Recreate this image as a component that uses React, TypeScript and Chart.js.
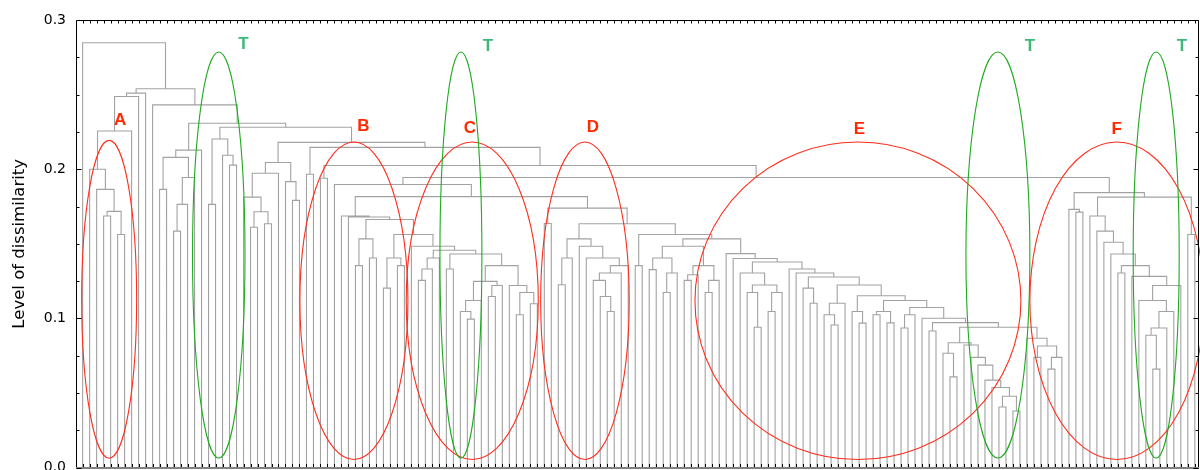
import React, { useEffect, useRef } from 'react';
import { Chart, registerables } from 'chart.js';

Chart.register(...registerables);

// Height (level of dissimilarity) at which each pair of neighbouring leaves is joined.
// Entry i is the join between leaf i and leaf i+1 (160 leaves, left to right).
const GAP_HEIGHTS = [
  0.2848, 0.2000, 0.1865, 0.1686, 0.1717, 0.1562, 0.2256, 0.2487, 0.2510, 0.2539,
  0.2431, 0.1865, 0.2079, 0.1585, 0.1764, 0.1944, 0.2128, 0.2308, 0.1764, 0.2202,
  0.2094, 0.2027, 0.2281, 0.1813, 0.1611, 0.1715, 0.1634, 0.1973, 0.2045, 0.1917,
  0.1791, 0.2180, 0.1966, 0.2146, 0.1939, 0.2025, 0.1897, 0.1686, 0.1680, 0.1354,
  0.1533, 0.1405, 0.1663, 0.1203, 0.1405, 0.1354, 0.1562, 0.1484, 0.1255, 0.1331,
  0.1405, 0.1457, 0.1331, 0.1432, 0.1046, 0.0995, 0.1120, 0.1248, 0.1147, 0.1221,
  0.1354, 0.1221, 0.1024, 0.1174, 0.1098, 0.1816, 0.1636, 0.1739, 0.1226, 0.1405,
  0.1533, 0.1484, 0.1405, 0.1255, 0.1147, 0.1046, 0.1304, 0.1354, 0.1634, 0.1354,
  0.1562, 0.1327, 0.1405, 0.1174, 0.1304, 0.1484, 0.1255, 0.1293, 0.1354, 0.1174,
  0.1255, 0.1533, 0.1434, 0.1401, 0.1304, 0.1174, 0.0941, 0.1224, 0.1046, 0.1174,
  0.1378, 0.1331, 0.1304, 0.1203, 0.1102, 0.1277, 0.1024, 0.0956, 0.1102, 0.1224,
  0.1046, 0.0968, 0.1152, 0.1024, 0.1046, 0.0970, 0.1120, 0.0936, 0.1024, 0.1073,
  0.1001, 0.0916, 0.0972, 0.0766, 0.0608, 0.0837, 0.0822, 0.0739, 0.0687, 0.0586,
  0.0537, 0.0406, 0.0478, 0.0379, 0.0941, 0.0867, 0.0739, 0.0815, 0.0660, 0.0739,
  0.1944, 0.1731, 0.1712, 0.1843, 0.1686, 0.1585, 0.1510, 0.1432, 0.1304, 0.1354,
  0.1282, 0.1120, 0.0887, 0.0660, 0.0936, 0.1046, 0.1221, 0.1813, 0.1562,
];

const Y_MIN = 0;
const Y_MAX = 0.3;
const Y_STEP = 0.1;
const Y_MINOR_STEP = 0.025;
const Y_TITLE = 'Level of dissimilarity';

// Group outlines (centre / radii in leaf-index and dissimilarity units)
const GROUP_LABELS = ['A', 'T', 'B', 'C', 'T', 'D', 'E', 'T', 'F', 'T'];
const GROUP_KINDS = ['red', 'green', 'red', 'red', 'green', 'red', 'red', 'green', 'red', 'green'];
const GROUP_CX = [3.79, 19.46, 38.78, 55.7, 54.08, 71.81, 110.84, 130.85, 147.86, 153.48];
const GROUP_RX = [3.93, 3.75, 7.72, 9.44, 3.0, 6.33, 23.3, 4.57, 12.44, 3.29];
const GROUP_CY = [0.1128, 0.1425, 0.1118, 0.1118, 0.1425, 0.1118, 0.1118, 0.1425, 0.1118, 0.1425];
const GROUP_RY = [0.1065, 0.1361, 0.1064, 0.1064, 0.1361, 0.1064, 0.1064, 0.1361, 0.1064, 0.1361];
const LABEL_X = [5.35, 22.99, 40.14, 55.37, 57.94, 72.95, 111.05, 135.44, 147.85, 157.15];
const LABEL_Y = [0.233, 0.2835, 0.229, 0.2276, 0.2822, 0.228, 0.2269, 0.2822, 0.2269, 0.2822];

const LEAF_COUNT = GAP_HEIGHTS.length + 1;

type Pt = { x: number; y: number | null };

function buildLinks(): Pt[] {
  const pts: Pt[] = [];
  const build = (lo: number, hi: number): { x: number; h: number } => {
    if (lo === hi) return { x: lo, h: 0 };
    let k = lo;
    for (let i = lo; i < hi; i++) if (GAP_HEIGHTS[i] > GAP_HEIGHTS[k]) k = i;
    const L = build(lo, k);
    const R = build(k + 1, hi);
    const H = GAP_HEIGHTS[k];
    pts.push({ x: L.x, y: L.h }, { x: L.x, y: H }, { x: R.x, y: H }, { x: R.x, y: R.h }, { x: R.x, y: null });
    return { x: (L.x + R.x) / 2, h: H };
  };
  build(0, LEAF_COUNT - 1);
  return pts;
}

const overlayPlugin = {
  id: 'dendroOverlay',
  afterDatasetsDraw(chart: any) {
    const { ctx, chartArea } = chart;
    const { left, right, top, bottom } = chartArea;
    const xs = chart.scales.x;
    const ys = chart.scales.y;
    ctx.save();

    // group outlines
    for (let i = 0; i < GROUP_LABELS.length; i++) {
      const cx = xs.getPixelForValue(GROUP_CX[i]);
      const rx = Math.abs(xs.getPixelForValue(GROUP_CX[i] + GROUP_RX[i]) - cx);
      const cy = ys.getPixelForValue(GROUP_CY[i]);
      const ry = Math.abs(ys.getPixelForValue(GROUP_CY[i] + GROUP_RY[i]) - cy);
      ctx.beginPath();
      ctx.ellipse(cx, cy, rx, ry, 0, 0, Math.PI * 2);
      ctx.strokeStyle = GROUP_KINDS[i] === 'red' ? '#ff2d1c' : '#1faa1f';
      ctx.lineWidth = 1.1;
      ctx.stroke();
    }

    // frame
    const L = Math.round(left) + 0.5;
    const R = Math.round(right) - 0.5;
    const T = Math.round(top) + 0.5;
    const B = Math.round(bottom);
    ctx.strokeStyle = '#000';
    ctx.lineWidth = 1;
    ctx.beginPath();
    ctx.moveTo(L, B);
    ctx.lineTo(L, T);
    ctx.lineTo(R, T);
    ctx.lineTo(R, B);
    ctx.stroke();
    ctx.strokeStyle = '#808080';
    ctx.lineWidth = 2;
    ctx.beginPath();
    ctx.moveTo(L - 0.5, B);
    ctx.lineTo(R + 0.5, B);
    ctx.stroke();

    // inward ticks
    ctx.strokeStyle = '#000';
    ctx.lineWidth = 1;
    ctx.beginPath();
    const nMinor = Math.round((Y_MAX - Y_MIN) / Y_MINOR_STEP);
    for (let j = 0; j <= nMinor; j++) {
      const v = Y_MIN + j * Y_MINOR_STEP;
      const py = Math.round(ys.getPixelForValue(v)) + 0.5;
      const len = j % Math.round(Y_STEP / Y_MINOR_STEP) === 0 ? 5 : 3;
      ctx.moveTo(L, py);
      ctx.lineTo(L + len, py);
      ctx.moveTo(R, py);
      ctx.lineTo(R - len, py);
    }
    for (let i = 0; i < LEAF_COUNT; i++) {
      const px = Math.round(xs.getPixelForValue(i)) + 0.5;
      ctx.moveTo(px, T);
      ctx.lineTo(px, T + 3);
      ctx.moveTo(px, B - 1);
      ctx.lineTo(px, B - 4);
    }
    ctx.stroke();

    // group labels
    ctx.font = 'bold 17px "Liberation Sans", Arial, sans-serif';
    ctx.textAlign = 'center';
    ctx.textBaseline = 'middle';
    for (let i = 0; i < GROUP_LABELS.length; i++) {
      ctx.fillStyle = GROUP_KINDS[i] === 'red' ? '#ff2a00' : '#3cb878';
      ctx.fillText(GROUP_LABELS[i], xs.getPixelForValue(LABEL_X[i]), ys.getPixelForValue(LABEL_Y[i]));
    }
    ctx.restore();
  },
};

export default function App() {
  const ref = useRef<HTMLCanvasElement>(null);
  useEffect(() => {
    const canvas = ref.current;
    if (!canvas) return;
    const chart = new Chart(canvas, {
      type: 'line',
      data: {
        datasets: [
          {
            data: buildLinks() as any,
            borderColor: '#a2a2a2',
            borderWidth: 1.1,
            pointRadius: 0,
            pointHoverRadius: 0,
            spanGaps: false,
            tension: 0,
            fill: false,
          },
        ],
      },
      options: {
        animation: false,
        responsive: false,
        events: [],
        layout: { padding: { top: 20, right: 1, bottom: 13, left: 0 } },
        plugins: { legend: { display: false }, tooltip: { enabled: false } },
        scales: {
          x: { type: 'linear', min: -0.95, max: 159.6, display: false },
          y: {
            type: 'linear',
            min: Y_MIN,
            max: Y_MAX,
            afterFit: (s: any) => {
              s.width = 76;
            },
            grid: { display: false, drawTicks: false },
            border: { display: false },
            ticks: {
              stepSize: Y_STEP,
              padding: 10,
              color: '#000',
              font: { family: '"DejaVu Sans", sans-serif', size: 14 },
              callback: (v: any) => Number(v).toFixed(1),
            },
            title: {
              display: true,
              text: Y_TITLE,
              color: '#000',
              font: { family: '"DejaVu Sans", sans-serif', size: 16.5 },
              padding: { top: 10, bottom: 0 },
            },
          },
        },
      },
      plugins: [overlayPlugin],
    });
    return () => chart.destroy();
  }, []);
  return (
    <div style={{ position: 'fixed', left: 0, top: 0, width: 1200, height: 486, background: '#fff' }}>
      <canvas ref={ref} width={1200} height={486} style={{ display: 'block', width: 1200, height: 486 }} />
    </div>
  );
}
